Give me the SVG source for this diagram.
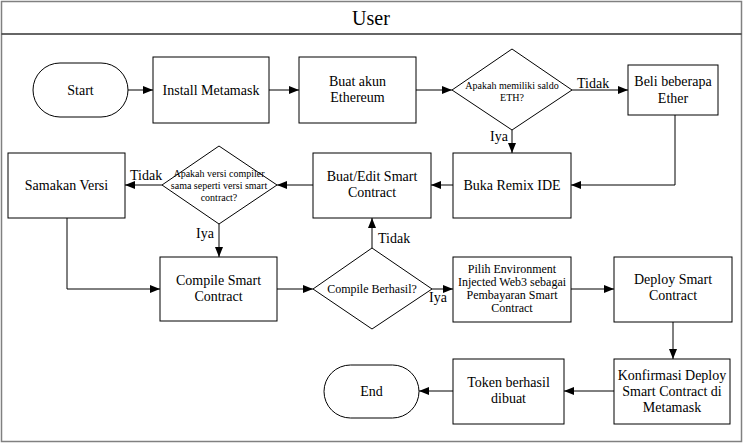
<svg xmlns="http://www.w3.org/2000/svg" width="743" height="443" viewBox="0 0 743 443" font-family="'Liberation Serif', 'Times New Roman', 'DejaVu Serif', serif">
<style>
text{font-family:"Liberation Serif","Times New Roman","DejaVu Serif",serif;fill:#000}
.n{fill:#fff;stroke:#000;stroke-width:1}
.t{font-size:14px;text-anchor:middle}
.s{font-size:10px;text-anchor:middle}
.l{font-size:14px}
.c{fill:none;stroke:#000;stroke-width:1;marker-end:url(#a)}
</style>
<defs>
<marker id="a" viewBox="0 0 10 10" refX="10" refY="5" markerWidth="10" markerHeight="10" markerUnits="userSpaceOnUse" orient="auto">
<path d="M0,1 L10,5 L0,9 z" fill="#000"/>
</marker>
</defs>
<rect width="743" height="443" fill="#fff"/>
<g id="frame">
<rect x="1.5" y="1.5" width="740" height="440" fill="none" stroke="#808080" stroke-width="1.5"/>
<line x1="1.5" y1="34" x2="741.5" y2="34" stroke="#333" stroke-width="1.5"/>
<text x="371" y="25" class="t" style="font-size:20px">User</text>
</g>
<g id="connectors">
<path class="c" d="M128,90 H153"/>
<path class="c" d="M269,90 H299"/>
<path class="c" d="M416,90 H452"/>
<path class="c" d="M572,90 H628"/>
<path class="c" d="M512,130 V153"/>
<path class="c" d="M675,115 V185 H571"/>
<path class="c" d="M453,185 H431"/>
<path class="c" d="M313,185 H277"/>
<path class="c" d="M162,185 H125"/>
<path class="c" d="M219,224 V257"/>
<path class="c" d="M67,218 V289 H160"/>
<path class="c" d="M277,289 H313"/>
<path class="c" d="M372,248 V218"/>
<path class="c" d="M432,289 H453"/>
<path class="c" d="M571,289 H614"/>
<path class="c" d="M673,322 V359"/>
<path class="c" d="M614,391 H564"/>
<path class="c" d="M453,391 H419"/>
<text x="577" y="88" class="l">Tidak</text>
<text x="490" y="141" class="l">Iya</text>
<text x="130" y="180" class="l">Tidak</text>
<text x="196" y="238" class="l">Iya</text>
<text x="378" y="243" class="l">Tidak</text>
<text x="429" y="302" class="l">Iya</text>
</g>
<g id="start"><rect class="n" x="33" y="63" width="95" height="54" rx="27"/><text x="80.5" y="95" class="t">Start</text></g>
<g id="install"><rect class="n" x="153" y="57" width="116" height="66"/><text x="211" y="95" class="t">Install Metamask</text></g>
<g id="akun"><rect class="n" x="299" y="57" width="117" height="66"/><text x="357.5" y="86" class="t">Buat akun</text><text x="357.5" y="102" class="t">Ethereum</text></g>
<g id="saldo"><polygon class="n" points="512,49 572,90 512,130 452,90"/><text x="512" y="89" class="s">Apakah memiliki saldo</text><text x="512" y="101" class="s">ETH?</text></g>
<g id="beli"><rect class="n" x="628" y="65" width="90" height="50"/><text x="673" y="86" class="t">Beli beberapa</text><text x="673" y="103" class="t">Ether</text></g>
<g id="remix"><rect class="n" x="453" y="153" width="118" height="65"/><text x="512" y="190" class="t">Buka Remix IDE</text></g>
<g id="edit"><rect class="n" x="313" y="153" width="118" height="65"/><text x="372" y="181" class="t">Buat/Edit Smart</text><text x="372" y="197" class="t">Contract</text></g>
<g id="versi"><polygon class="n" points="219,146 277,185 219,224 162,185"/><text x="219" y="177" class="s">Apakah versi compiler</text><text x="219" y="189" class="s">sama seperti versi smart</text><text x="219" y="201" class="s">contract?</text></g>
<g id="samakan"><rect class="n" x="8" y="153" width="117" height="65"/><text x="66.5" y="190" class="t">Samakan Versi</text></g>
<g id="compile"><rect class="n" x="160" y="257" width="117" height="64"/><text x="218.5" y="285" class="t">Compile Smart</text><text x="218.5" y="301" class="t">Contract</text></g>
<g id="berhasil"><polygon class="n" points="372,248 432,289 372,329 313,289"/><text x="372" y="293" class="s" style="font-size:12px">Compile Berhasil?</text></g>
<g id="pilih"><rect class="n" x="453" y="257" width="118" height="65"/><text x="512" y="273" class="s" style="font-size:12px">Pilih Environment</text><text x="512" y="286" class="s" style="font-size:12px">Injected Web3 sebagai</text><text x="512" y="299" class="s" style="font-size:12px">Pembayaran Smart</text><text x="512" y="312" class="s" style="font-size:12px">Contract</text></g>
<g id="deploy"><rect class="n" x="614" y="257" width="118" height="65"/><text x="673" y="284" class="t">Deploy Smart</text><text x="673" y="300" class="t">Contract</text></g>
<g id="konfirmasi"><rect class="n" x="614" y="359" width="116" height="65"/><text x="672" y="380" class="t">Konfirmasi Deploy</text><text x="672" y="396" class="t">Smart Contract di</text><text x="672" y="412" class="t">Metamask</text></g>
<g id="token"><rect class="n" x="453" y="359" width="111" height="65"/><text x="508.5" y="387" class="t">Token berhasil</text><text x="508.5" y="403" class="t">dibuat</text></g>
<g id="end"><rect class="n" x="324" y="365" width="95" height="53" rx="26.5"/><text x="371.5" y="396" class="t">End</text></g>
</svg>
